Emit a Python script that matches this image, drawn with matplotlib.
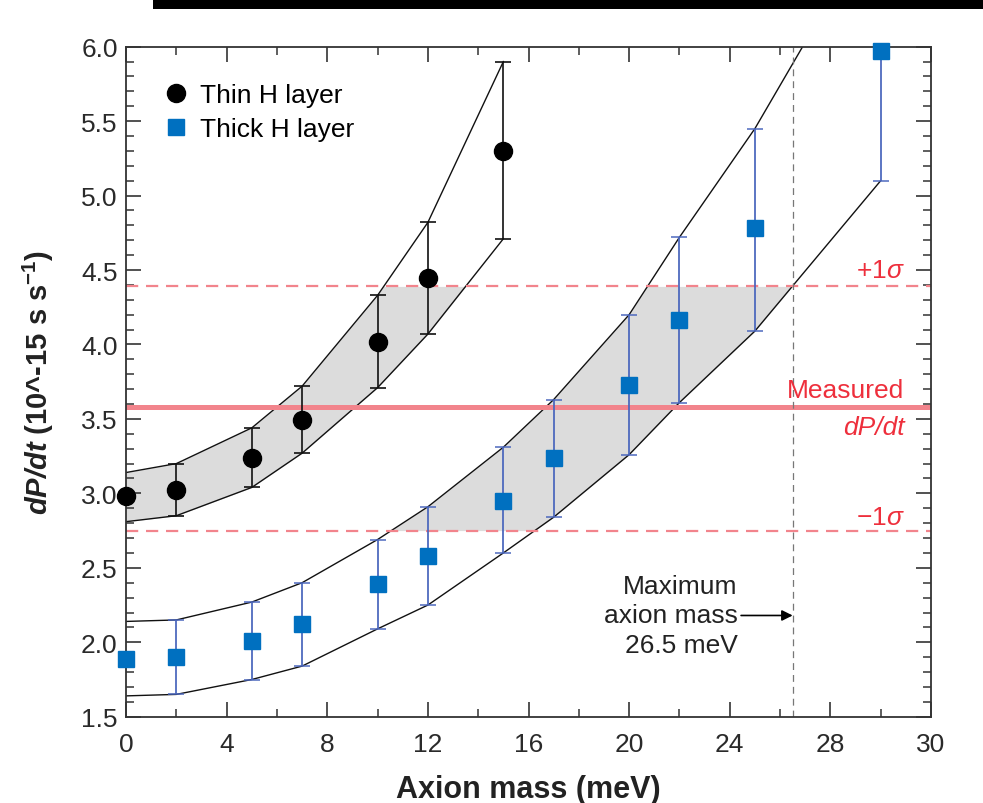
import numpy as np
import matplotlib
matplotlib.use("Agg")
import matplotlib.pyplot as plt
from matplotlib.patches import Rectangle
from matplotlib.ticker import MultipleLocator

plt.rcParams['font.family'] = ['Liberation Sans', 'DejaVu Sans']
plt.rcParams['mathtext.fontset'] = 'custom'
plt.rcParams['mathtext.rm'] = 'Liberation Sans'
plt.rcParams['mathtext.it'] = 'Liberation Sans:italic'
plt.rcParams['mathtext.bf'] = 'Liberation Sans:bold'
plt.rcParams['mathtext.bfit'] = 'Liberation Sans:italic:bold'

# ---- data ----
x_thin = [0, 2, 5, 7, 10, 12, 15]
y_thin = [2.98, 3.02, 3.24, 3.49, 4.02, 4.445, 5.30]
thin_lo = [2.81, 2.85, 3.04, 3.27, 3.71, 4.07, 4.71]
thin_hi = [3.14, 3.20, 3.44, 3.72, 4.33, 4.82, 5.90]

x_thick = [0, 2, 5, 7, 10, 12, 15, 17, 20, 22, 25, 30]
y_thick = [1.89, 1.90, 2.01, 2.12, 2.39, 2.58, 2.95, 3.24, 3.73, 4.165, 4.78, 5.97]
thick_lo = [1.64, 1.65, 1.75, 1.84, 2.09, 2.25, 2.60, 2.84, 3.26, 3.61, 4.09, 5.10]
thick_hi = [2.14, 2.15, 2.27, 2.40, 2.69, 2.91, 3.31, 3.63, 4.20, 4.72, 5.45, 6.90]

measured = 3.58
sigma_hi = 4.39
sigma_lo = 2.75
max_mass = 26.5

xtick_pos = [0, 4, 8, 12, 16, 20, 24, 28, 32]
xtick_labels = ['0', '4', '8', '12', '16', '20', '24', '28', '30']

RED = '#ee2f3c'
LINE_RED = '#f2848c'
BLUE = '#0070c0'
EBLUE = '#4a66bd'
FILL = '#dcdcdc'
FS = 19

fig = plt.figure(figsize=(9.83, 8.04), dpi=100)
ax = fig.add_axes([0.1282, 0.1073, 0.8189, 0.8334])

# shaded regions within +-1 sigma
for xs, lo, hi in [(x_thin, thin_lo, thin_hi), (x_thick, thick_lo, thick_hi)]:
    xd = np.linspace(xs[0], xs[-1], 1500)
    lo_d = np.clip(np.interp(xd, xs, lo), sigma_lo, sigma_hi)
    hi_d = np.clip(np.interp(xd, xs, hi), sigma_lo, sigma_hi)
    ax.fill_between(xd, lo_d, hi_d, where=hi_d > lo_d, color=FILL, lw=0, zorder=1)

# band outlines
for xs, lo, hi in [(x_thin, thin_lo, thin_hi), (x_thick, thick_lo, thick_hi)]:
    ax.plot(xs, lo, color='#111111', lw=1.0, zorder=2)
    ax.plot(xs, hi, color='#111111', lw=1.0, zorder=2)

# reference lines
ax.axhline(measured, color=LINE_RED, lw=3.6, zorder=2.5)
ax.axhline(sigma_hi, color=LINE_RED, lw=1.6, dashes=(5.5, 3.5), zorder=2.5)
ax.axhline(sigma_lo, color=LINE_RED, lw=1.6, dashes=(5.5, 3.5), zorder=2.5)
ax.axvline(max_mass, color='#777777', lw=0.9, dashes=(5.5, 4), zorder=2.5)

# error bars
xt = np.array(x_thin[1:]); yt = np.array(y_thin[1:])
ax.errorbar(xt, yt, yerr=[yt - np.array(thin_lo[1:]), np.array(thin_hi[1:]) - yt],
            fmt='none', ecolor='#111111', elinewidth=1.2, capsize=5.5, capthick=1.2, zorder=3)
xk = np.array(x_thick[1:]); yk = np.array(y_thick[1:])
ax.errorbar(xk, yk, yerr=[yk - np.array(thick_lo[1:]), np.array(thick_hi[1:]) - yk],
            fmt='none', ecolor=EBLUE, elinewidth=1.4, capsize=5.5, capthick=1.2, alpha=0.9, zorder=3)

# markers
ax.plot(x_thin, y_thin, 'o', color='black', ms=13, ls='none', label='Thin H layer', zorder=4, clip_on=False)
ax.plot(x_thick, y_thick, 's', color=BLUE, ms=11.5, ls='none', label='Thick H layer', zorder=4, clip_on=False)

ax.legend(loc='upper left', bbox_to_anchor=(0.046, 0.946), frameon=False, fontsize=FS,
          borderpad=0, borderaxespad=0, handlelength=1.0, handletextpad=0.4,
          labelspacing=0.4, markerscale=1.0)

# texts
ax.text(30.95, 4.453, r'+1$\sigma$', color=RED, fontsize=FS, ha='right', va='baseline')
ax.text(30.95, 3.647, 'Measured', color=RED, fontsize=FS, ha='right', va='baseline')
ax.text(30.95, 3.40, 'dP/dt', color=RED, fontsize=FS, ha='right', va='baseline', style='italic')
ax.text(30.95, 2.794, '\u22121$\\sigma$', color=RED, fontsize=FS, ha='right', va='baseline')

ax.text(24.32, 2.18, 'Maximum\naxion mass\n26.5 meV', fontsize=FS, ha='right', va='center',
        multialignment='right', color='#222222', linespacing=1.27)
ax.annotate('', xy=(max_mass, 2.18), xytext=(24.45, 2.18),
            arrowprops=dict(arrowstyle='-|>', color='black', lw=1.2, mutation_scale=16,
                            shrinkA=0, shrinkB=0))

# axes
ax.set_xlim(0, 32)
ax.set_ylim(1.5, 6.0)
ax.set_xticks(xtick_pos)
ax.set_xticklabels(xtick_labels)
ax.xaxis.set_minor_locator(MultipleLocator(2))
ax.yaxis.set_major_locator(MultipleLocator(0.5))
ax.yaxis.set_minor_locator(MultipleLocator(0.1))
ax.yaxis.set_major_formatter(matplotlib.ticker.FormatStrFormatter('%.1f'))
ax.tick_params(which='both', direction='in', top=True, right=True, colors='#333333', labelcolor='#2a2a2a')
ax.tick_params(which='major', length=10.5, width=1.2, labelsize=FS)
ax.tick_params(which='minor', length=5.5, width=1.1)
ax.tick_params(axis='x', which='major', pad=11)
ax.tick_params(axis='y', which='major', pad=6)
for s in ax.spines.values():
    s.set_color('#333333')
    s.set_linewidth(1.3)

ax.set_xlabel('Axion mass (meV)', fontsize=22, fontweight='bold', color='#222222')
ax.set_ylabel(r'$\mathbfit{dP/dt}$ (10^-15 s s$^{\mathbf{-1}}$)', fontsize=21, fontweight='bold', color='#222222')
ax.xaxis.set_label_coords(0.5, -0.085)
ax.yaxis.set_label_coords(-0.087, 0.5)

fig.add_artist(Rectangle((0.1556, 0.9876), 0.8444, 0.0124, transform=fig.transFigure,
                         color='black', lw=0))

fig.savefig('out.png', dpi=100)
